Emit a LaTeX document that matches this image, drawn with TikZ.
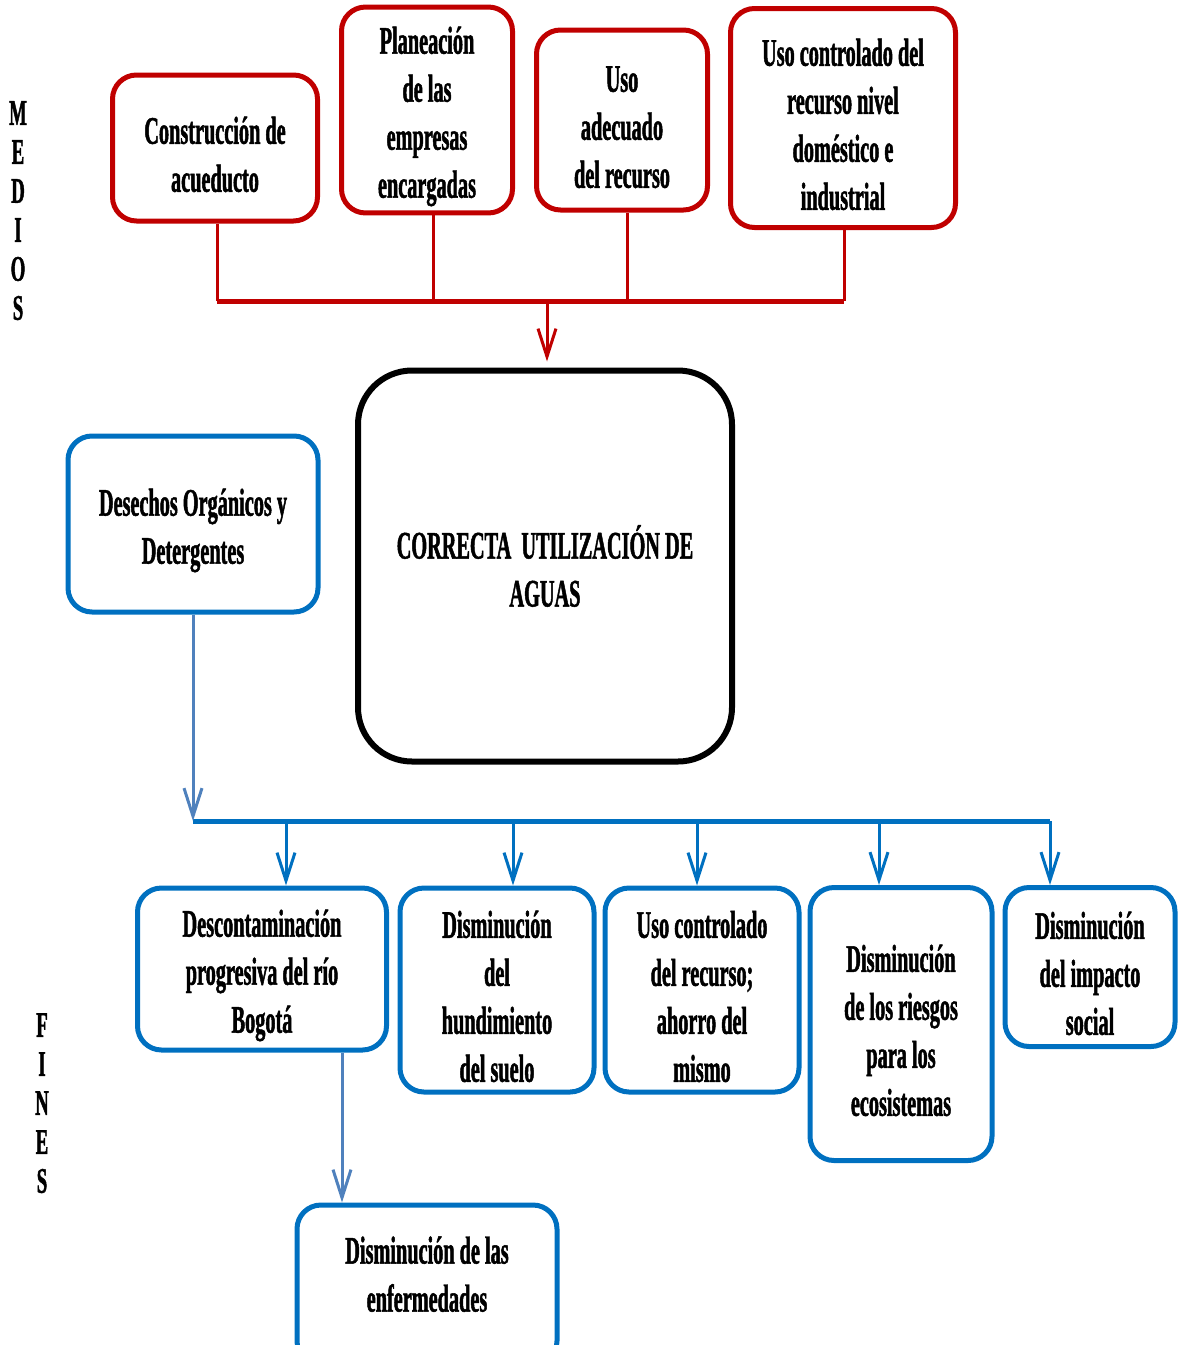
\documentclass[tikz,border=0pt]{standalone}
\usepackage{fontspec}
\setmainfont{Liberation Serif}
\newfontfamily\narrowfont[FakeStretch=0.52, BoldFeatures={FakeBold=1.2}]{Liberation Serif}
\usetikzlibrary{arrows.meta}

\definecolor{rojo}{HTML}{C00000}
\definecolor{azul}{HTML}{0070C0}
\definecolor{acero}{HTML}{4F81BD}

% extra room above the first line of a box
\newcommand{\sube}{\rule{0pt}{20pt}}

\begin{document}
\begin{tikzpicture}[x=0.5pt,y=-0.5pt]

\tikzstyle{texto}=[align=center, font=\narrowfont\bfseries\fontsize{19.5}{24}\selectfont]
\tikzstyle{medio}=[texto, rectangle, rounded corners=12pt, line width=2.5pt, draw=rojo]
\tikzstyle{fin}=[texto, rectangle, rounded corners=12pt, line width=2.5pt, draw=azul]
\tikzstyle{central}=[texto, rectangle, rounded corners=27pt, line width=3pt, draw=black]
\tikzstyle{lado}=[font=\narrowfont\bfseries\fontsize{18}{20}\selectfont, inner sep=0pt]

\tikzstyle{rojolinea}=[rojo, line width=1.5pt]
\tikzstyle{azullinea}=[azul, line width=1.5pt, -{Straight Barb[length=14pt,width=9pt]}]
\tikzstyle{acerolinea}=[acero, line width=1.5pt, -{Straight Barb[length=14pt,width=9pt]}]

\useasboundingbox (0,0) rectangle (1180,1345);
\clip (0,0) rectangle (1180,1345);

% medios
\node[medio, minimum width=102.5pt, minimum height=73pt] (acued) at (215,148) {\sube Construcción de\\acueducto};
\node[medio, minimum width=85.5pt, minimum height=100.5pt] (plan) at (427,110) {\sube Planeación\\de las\\empresas\\encargadas};
\node[medio, minimum width=85.5pt, minimum height=90pt] (uso) at (622,120) {\sube Uso\\adecuado\\del recurso};
\node[medio, minimum width=112.5pt, minimum height=109.5pt] (usoctrl) at (843,118) {\sube Uso controlado del\\recurso nivel\\doméstico e\\industrial};

\node[central, minimum width=187pt, minimum height=195.5pt] (agua) at (545,566) {CORRECTA~ UTILIZACIÓN DE\\AGUAS};

\node[fin, minimum width=125pt, minimum height=88pt] (desechos) at (193,524) {\sube Desechos Orgánicos y\\Detergentes};

% fines
\node[fin, minimum width=124.5pt, minimum height=81pt] (descont) at (262,969) {\sube Descontaminación\\progresiva del río\\Bogotá};
\node[fin, minimum width=97pt, minimum height=102pt] (hund) at (497,990) {\sube Disminución\\del\\hundimiento\\del suelo};
\node[fin, minimum width=97pt, minimum height=102pt] (ahorro) at (702,990) {\sube Uso controlado\\del recurso;\\ahorro del\\mismo};
\node[fin, minimum width=91pt, minimum height=136.5pt] (riesgos) at (901,1024) {\sube Disminución\\de los riesgos\\para los\\ecosistemas};
\node[fin, minimum width=85pt, minimum height=79.5pt] (social) at (1090,967) {\sube Disminución\\del impacto\\social};
\node[fin, minimum width=130pt, minimum height=80pt] (enferm) at (427,1285) {Disminución de las\\enfermedades\rule[-11pt]{0pt}{11pt}};

\foreach \l [count=\i] in {M,E,D,I,O,S}
  \node[lado] (medios\i) at (18,74+39*\i) {\l};
\foreach \l [count=\i] in {F,I,N,E,S}
  \node[lado] (fines\i) at (42,986+39*\i) {\l};

% barra roja
\coordinate (rojoL) at (217,301);
\coordinate (rojoR) at (844,301);
\draw[rojo, line width=2.5pt] (rojoL) -- (rojoR);
\draw[rojolinea] ([xshift=1pt]acued.south) -- ([xshift=1pt]acued.south |- rojoL);
\draw[rojolinea] ([xshift=3pt]plan.south) -- ([xshift=3pt]plan.south |- rojoL);
\draw[rojolinea] ([xshift=2.5pt]uso.south) -- ([xshift=2.5pt]uso.south |- rojoL);
\draw[rojolinea] ([xshift=0.5pt]usoctrl.south) -- ([xshift=0.5pt]usoctrl.south |- rojoL);
\draw[rojolinea, -{Straight Barb[length=14pt,width=9pt]}, shorten >=3pt] ([xshift=1pt]agua.north |- rojoL) -- ([xshift=1pt]agua.north);

% barra azul
\coordinate (azulL) at (193,821);
\coordinate (azulR) at (1050,821);
\draw[azul, line width=2.5pt] (azulL) -- (azulR);
\draw[acerolinea] (desechos.south) -- (desechos.south |- azulL);
\draw[azullinea] ([xshift=12pt]descont.north |- azulL) -- ([xshift=12pt]descont.north);
\draw[azullinea] ([xshift=8pt]hund.north |- azulL) -- ([xshift=8pt]hund.north);
\draw[azullinea] ([xshift=-2.5pt]ahorro.north |- azulL) -- ([xshift=-2.5pt]ahorro.north);
\draw[azullinea] ([xshift=-11pt]riesgos.north |- azulL) -- ([xshift=-11pt]riesgos.north);
\draw[azullinea] (azulR) -- (azulR |- social.north);
\draw[acerolinea] ([xshift=40pt]descont.south) -- ([xshift=40pt]descont.south |- enferm.north);

\end{tikzpicture}
\end{document}
